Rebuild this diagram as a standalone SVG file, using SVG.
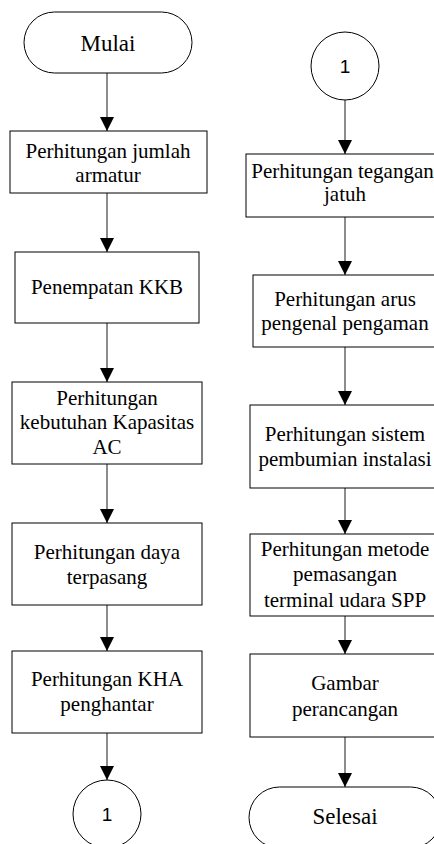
<svg xmlns="http://www.w3.org/2000/svg" width="434" height="844" viewBox="0 0 434 844">
<style>
.box{fill:#fff;stroke:#000;stroke-width:1}
.t{font-size:21px;fill:#000;text-anchor:middle}
.tt{font-size:23px;fill:#000;text-anchor:middle}
.n{font-size:19px;fill:#000;text-anchor:middle}
.c{stroke:#404040;stroke-width:1.2;fill:none;marker-end:url(#ah)}
</style>
<defs>
<marker id="ah" markerUnits="userSpaceOnUse" markerWidth="16" markerHeight="16" viewBox="0 0 16 16" refX="15" refY="8" orient="auto">
<path d="M1,1 L15,8 L1,15 Z" fill="#000"/>
</marker>
</defs>
<rect width="434" height="844" fill="#fff"/>
<g id="connectors">
<line class="c" x1="107" y1="73" x2="107" y2="131"/>
<line class="c" x1="107" y1="193" x2="107" y2="252"/>
<line class="c" x1="107" y1="323" x2="107" y2="382"/>
<line class="c" x1="107" y1="464" x2="107" y2="523"/>
<line class="c" x1="107" y1="605" x2="107" y2="651"/>
<line class="c" x1="107" y1="733" x2="107" y2="780"/>
<line class="c" x1="345" y1="100" x2="345" y2="154"/>
<line class="c" x1="345" y1="217" x2="345" y2="275"/>
<line class="c" x1="345" y1="347" x2="345" y2="405"/>
<line class="c" x1="345" y1="488" x2="345" y2="534"/>
<line class="c" x1="345" y1="616" x2="345" y2="654"/>
<line class="c" x1="345" y1="737" x2="345" y2="787"/>
</g>
<g font-family="'Liberation Serif', 'Times New Roman', serif">
<g id="mulai">
<rect class="box" x="24" y="12" width="168" height="61" rx="30.5" ry="30.5"/>
<text class="tt" x="108" y="51">Mulai</text>
</g>
<g id="n1">
<rect class="box" x="10" y="131" width="197" height="62"/>
<text class="t" x="108" y="158">Perhitungan jumlah</text>
<text class="t" x="108" y="182">armatur</text>
</g>
<g id="n2">
<rect class="box" x="15" y="252" width="184" height="71"/>
<text class="t" x="107" y="294">Penempatan KKB</text>
</g>
<g id="n3">
<rect class="box" x="12" y="382" width="190" height="82"/>
<text class="t" x="107" y="405">Perhitungan</text>
<text class="t" x="107" y="429">kebutuhan Kapasitas</text>
<text class="t" x="107" y="454">AC</text>
</g>
<g id="n4">
<rect class="box" x="12" y="523" width="190" height="82"/>
<text class="t" x="107" y="559">Perhitungan daya</text>
<text class="t" x="107" y="584">terpasang</text>
</g>
<g id="n5">
<rect class="box" x="12" y="651" width="190" height="82"/>
<text class="t" x="107" y="686">Perhitungan KHA</text>
<text class="t" x="107" y="711">penghantar</text>
</g>
<g id="r1">
<rect class="box" x="246" y="154" width="198" height="63"/>
<text class="t" x="342.5" y="178">Perhitungan tegangan</text>
<text class="t" x="345" y="201">jatuh</text>
</g>
<g id="r2">
<rect class="box" x="253" y="275" width="184" height="72"/>
<text class="t" x="345" y="306">Perhitungan arus</text>
<text class="t" x="345" y="330">pengenal pengaman</text>
</g>
<g id="r3">
<rect class="box" x="250" y="405" width="190" height="83"/>
<text class="t" x="345" y="441">Perhitungan sistem</text>
<text class="t" x="345" y="466">pembumian instalasi</text>
</g>
<g id="r4">
<rect class="box" x="250" y="534" width="190" height="82"/>
<text class="t" x="345" y="556">Perhitungan metode</text>
<text class="t" x="345" y="581">pemasangan</text>
<text class="t" x="345" y="607">terminal udara SPP</text>
</g>
<g id="r5">
<rect class="box" x="250" y="654" width="190" height="83"/>
<text class="t" x="345" y="690">Gambar</text>
<text class="t" x="345" y="716">perancangan</text>
</g>
<g id="selesai">
<rect class="box" x="249" y="787" width="192" height="61" rx="30.5" ry="30.5"/>
<text class="tt" x="345" y="824">Selesai</text>
</g>
</g>
<g font-family="'Liberation Sans', Arial, sans-serif">
<g id="c1a">
<circle class="box" cx="107" cy="814" r="34"/>
<text class="n" x="107" y="821">1</text>
</g>
<g id="c1b">
<circle class="box" cx="345" cy="66" r="34"/>
<text class="n" x="345" y="73">1</text>
</g>
</g>
</svg>
